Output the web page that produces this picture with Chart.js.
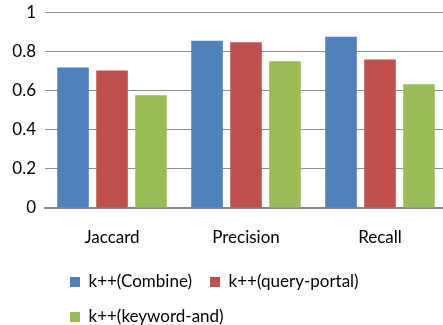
<!DOCTYPE html>
<html>
<head>
<meta charset="utf-8">
<script src="https://cdn.jsdelivr.net/npm/chart.js@4/dist/chart.umd.min.js"></script>
<style>
  html, body { margin: 0; padding: 0; overflow: hidden; background: #fff; }
  #wrap { width: 448px; height: 348px; }
</style>
</head>
<body>
<div id="wrap"><canvas id="chart"></canvas></div>
<script>
// ===================== DATA =====================
const categories = ["Jaccard", "Precision", "Recall"];
const combine = [0.72, 0.858, 0.878];
const queryPortal = [0.705, 0.85, 0.762];
const keywordAnd = [0.578, 0.753, 0.635];
const yTickLabels = ["0", "0.2", "0.4", "0.6", "0.8", "1"];

const seriesNames = ["k++(Combine)", "k++(query-portal)", "k++(keyword-and)"];
const seriesColors = ["#4f81bd", "#c0504d", "#9bbb59"];

// ===================== LEGEND NUDGE =====================
// rows in the original start under the plot and sit closer to the axis labels
const legendNudge = {
  id: "legendNudge",
  afterLayout(chart) {
    const lg = chart.legend;
    lg.left += 48.7;
    lg.top -= 12.5;
    lg.bottom -= 12.5;
  }
};

// ===================== CHART =====================
const font = { family: "Lato", size: 17, lineHeight: 1 };

new Chart(document.getElementById("chart"), {
  type: "bar",
  data: {
    labels: categories,
    datasets: [combine, queryPortal, keywordAnd].map((vals, i) => ({
      label: seriesNames[i],
      data: vals,
      backgroundColor: seriesColors[i],
      categoryPercentage: 0.873,
      barPercentage: 0.81
    }))
  },
  options: {
    responsive: true,
    maintainAspectRatio: false,
    animation: false,
    layout: { padding: { top: 0, left: 3.3, right: 1, bottom: 0 } },
    plugins: {
      tooltip: { enabled: false },
      legend: {
        position: "bottom",
        align: "start",
        labels: {
          boxWidth: 10,
          boxHeight: 10,
          padding: 18,
          color: "#000",
          font: font
        }
      }
    },
    scales: {
      x: {
        grid: { display: false, drawTicks: false },
        border: { display: true, color: "#868686", width: 2 },
        ticks: { color: "#000", font: font, padding: 21.5 }
      },
      y: {
        min: 0,
        max: 1,
        grid: { drawTicks: false, color: "#8f8f8f", lineWidth: 1 },
        border: { display: false },
        ticks: {
          stepSize: 0.2,
          padding: 9,
          color: "#000",
          font: { family: "Lato", size: 17, lineHeight: 0.47 },
          callback: (v, i) => yTickLabels[i]
        }
      }
    }
  },
  plugins: [legendNudge]
});
</script>
</body>
</html>
